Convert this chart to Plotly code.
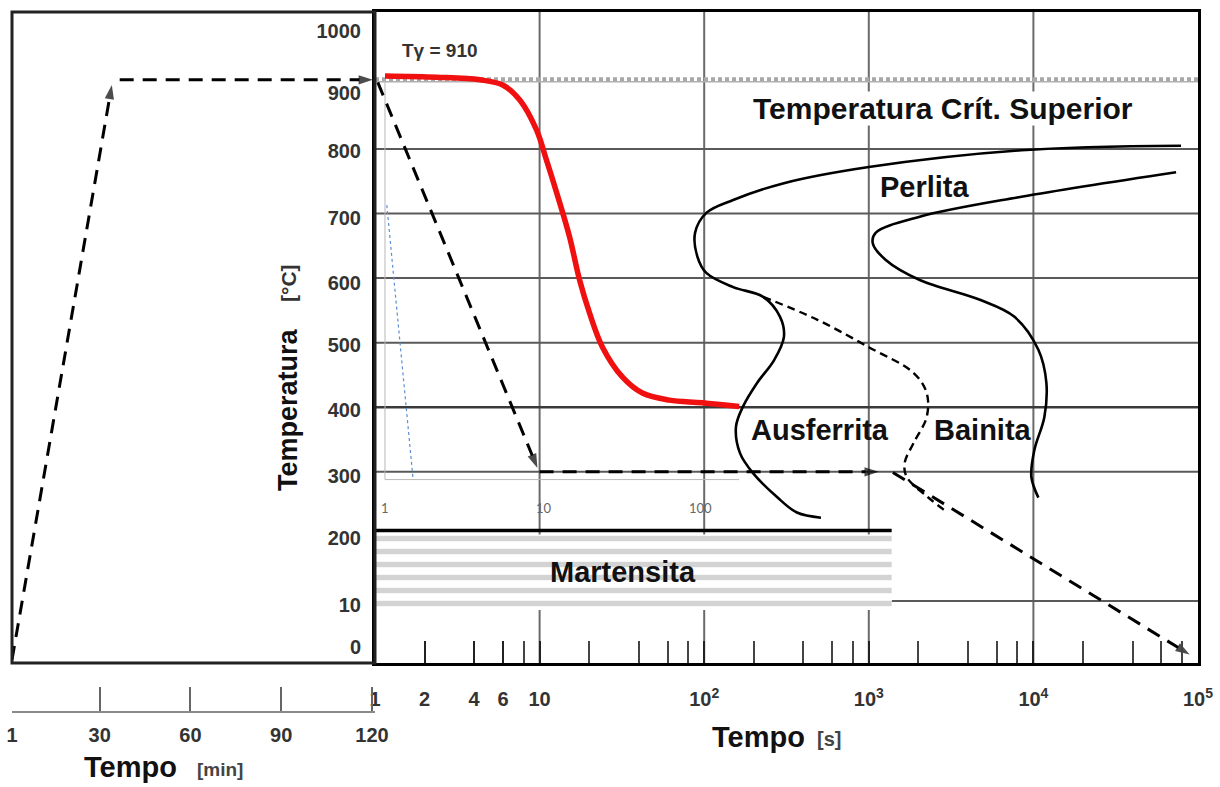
import numpy as np
import plotly.graph_objects as go

W, H = 1220, 787
FONT = "Liberation Sans, Arial, sans-serif"

# ---------------- data ----------------
# Right panel: time [s] (log) vs temperature (axis units)
RED_T = [1.15, 2.38, 4.33, 5.97, 7.56, 9.59, 11.0, 12.7, 15.2, 17.5, 20.1, 24.1, 31.8, 42.1, 61.4, 97.2, 163]
RED_TEMP = [913, 911, 907, 899, 876, 829, 783, 732, 664, 597, 546, 493, 447, 422, 411, 407, 401]

CURVE_A_T = [78900, 8460, 1000, 305, 150, 103, 88, 91, 103, 150, 228, 289, 305, 266, 210, 172, 156, 165, 198, 277, 366, 512]
CURVE_A_TEMP = [805, 798, 772, 747, 721, 701, 670, 633, 608, 586, 571, 540, 509, 473, 438, 401, 370, 329, 298, 261, 237, 229]

CURVE_B_T = [73600, 8460, 2040, 1100, 1057, 1268, 2040, 4775, 7675, 10720, 11990, 11660, 10140, 9720, 10720]
CURVE_B_TEMP = [764, 726, 695, 670, 654, 628, 597, 566, 540, 489, 438, 385, 334, 292, 260]

BAIN_T = [228, 491, 1000, 1875, 2248, 2248, 1875, 1652, 1700, 2279, 3013]
BAIN_TEMP = [571, 535, 493, 453, 422, 385, 345, 314, 292, 261, 237]

COOL1_T, COOL1_TEMP = [1.04, 9.7], [903, 306]
COOL2_T, COOL2_TEMP = [10, 1150], [300, 300]
COOL3_T, COOL3_TEMP = [1400, 89000], [299, 17]

# Left panel: time [min] vs temperature
HEAT1_MIN, HEAT1_TEMP = [1, 34], [9, 899]
HEAT2_MIN, HEAT2_TEMP = [36.6, 120.3], [907, 907]

H_GRID = [300, 400, 500, 600, 700, 800]
V_GRID = [10, 100, 1000, 10000]
TCRIT = 906
MS_TEMP = 209
MS_END_T = 1377
HATCH_BOTTOM, HATCH_TOP = 86, 203
LOW_GRID = 100

INSET_LEFT_T, INSET_RIGHT_T = 1.15, 163
INSET_BOTTOM, INSET_TOP = 288, 905
INSET_LABELS = ["1", "10", "100"]
INSET_LABEL_T = [1.15, 10.6, 95]
INSET_LABEL_TEMP = 244
BLUE_T, BLUE_TEMP = [1.18, 1.70], [713, 291]

# temperature labels sit slightly below their grid lines in the original
Y_TICK_POS = [29, 94, 198, 294, 396, 497, 593, 693, 797, 887, 983]
Y_TICK_TXT = ["0", "10", "200", "300", "400", "500", "600", "700", "800", "900", "1000"]
Y_RANGE = [4, 1012]

X_TICK_VALS = [1, 2, 4, 6, 10, 100, 1000, 10000, 100000]
X_TICK_TXT = ["1", "2", "4", "6", "10", "10<sup>2</sup>", "10<sup>3</sup>", "10<sup>4</sup>", "10<sup>5</sup>"]
X_MINOR = [8, 20, 40, 60, 80, 200, 400, 600, 800, 2000, 4000, 6000, 8000,
           20000, 40000, 60000, 80000]
X_RANGE_T = [1, 100000]

XM_TICKS = [1, 30, 60, 90, 120]
XM_RANGE = [1, 121]

LABELS = [
    ("Temperatura Crít. Superior", 2807, 863, 30, True),
    ("Perlita", 2185, 741, 29, False),
    ("Ausferrita", 505, 365, 29, False),
    ("Bainita", 4909, 365, 29, False),
    ("Martensita", 32.3, 145, 29, False),
]
TG_LABEL = ("Tγ = 910", 2.48, 953)

# ---------------- figure ----------------
fig = go.Figure()


def line(x, y, xaxis="x", color="black", width=2, dash="solid", shape="linear"):
    fig.add_trace(go.Scatter(x=x, y=y, xaxis=xaxis, yaxis="y", mode="lines",
                             line=dict(color=color, width=width, dash=dash, shape=shape),
                             hoverinfo="skip", showlegend=False))


def arrow_line(x, y, xaxis="x", width=3, dash="14px,9px", size=15):
    fig.add_trace(go.Scatter(
        x=x, y=y, xaxis=xaxis, yaxis="y", mode="lines+markers",
        line=dict(color="black", width=width, dash=dash),
        marker=dict(symbol="arrow", size=[0] * (len(x) - 1) + [size],
                    angleref="previous", color="black", line=dict(width=0)),
        cliponaxis=False, hoverinfo="skip", showlegend=False))


# vertical grid
for v in V_GRID:
    line([v, v], Y_RANGE, color="#6a6a6a", width=2)
# horizontal grid
for h in H_GRID:
    line(X_RANGE_T, [h, h], color="#3a3a3a" if h == 400 else "#5a5a5a",
         width=2.5 if h == 400 else 2)
line([MS_END_T, X_RANGE_T[1]], [LOW_GRID, LOW_GRID], color="#5a5a5a", width=2)

# critical temperature line (grey dotted double line)
line(X_RANGE_T, [TCRIT - 2, TCRIT - 2], color="#b0b0b0", width=1.5)
line(X_RANGE_T, [TCRIT + 2, TCRIT + 2], color="#a8a8a8", width=4, dash="4px,3px")

# faint inset frame
line([INSET_LEFT_T, INSET_LEFT_T, INSET_RIGHT_T], [INSET_TOP, INSET_BOTTOM, INSET_BOTTOM],
     color="#b8b8b8", width=1)
line(BLUE_T, BLUE_TEMP, color="#5b8fd0", width=1.2, dash="dot")

# martensite hatch
fig.add_trace(go.Scatter(
    x=[X_RANGE_T[0], MS_END_T, MS_END_T, X_RANGE_T[0], X_RANGE_T[0]],
    y=[HATCH_BOTTOM, HATCH_BOTTOM, HATCH_TOP, HATCH_TOP, HATCH_BOTTOM],
    xaxis="x", yaxis="y", mode="lines", fill="toself", fillcolor="white",
    fillpattern=dict(shape="-", size=13, solidity=0.42, fgcolor="#a8a8a8", bgcolor="white"),
    line=dict(width=0), hoverinfo="skip", showlegend=False))
line([X_RANGE_T[0], MS_END_T], [MS_TEMP, MS_TEMP], color="black", width=3.5)

# transformation curves
line(CURVE_A_T, CURVE_A_TEMP, width=2.6, shape="spline")
line(CURVE_B_T, CURVE_B_TEMP, width=2.6, shape="spline")
line(BAIN_T, BAIN_TEMP, width=2.4, dash="8px,5px", shape="spline")

# red cooling curve
line(RED_T, RED_TEMP, color="#f01010", width=5.5, shape="spline")

# dashed process path
arrow_line(COOL1_T, COOL1_TEMP)
arrow_line(COOL2_T, COOL2_TEMP)
arrow_line(COOL3_T, COOL3_TEMP)
arrow_line(HEAT1_MIN, HEAT1_TEMP, xaxis="x2")
arrow_line(HEAT2_MIN, HEAT2_TEMP, xaxis="x2")

# ---------------- annotations ----------------
ann = []
for txt, t, temp, size, bg in LABELS:
    ann.append(dict(x=np.log10(t), y=temp, xref="x", yref="y", text=f"<b>{txt}</b>",
                    showarrow=False, font=dict(family=FONT, size=size, color="#111"),
                    bgcolor="white" if bg else None, borderpad=0))
ann.append(dict(x=np.log10(TG_LABEL[1]), y=TG_LABEL[2], xref="x", yref="y",
                text=f"<b>{TG_LABEL[0]}</b>", showarrow=False,
                font=dict(family=FONT, size=19, color="#333")))
for lab, t in zip(INSET_LABELS, INSET_LABEL_T):
    ann.append(dict(x=np.log10(t), y=INSET_LABEL_TEMP, xref="x", yref="y", text=lab,
                    showarrow=False, font=dict(family="Lato, Noto Sans, sans-serif",
                                               size=13, color="#666")))


def px(xp, yp):
    return xp / W, 1 - yp / H


for txt, xp, yp, size, color, ang in [
    ("<b>Tempo</b>", 758, 737, 29, "#111", 0),
    ("<b>[s]</b>", 829, 739, 20, "#444", 0),
    ("<b>Tempo</b>", 130, 767, 29, "#111", 0),
    ("<b>[min]</b>", 220, 769, 19, "#444", 0),
    ("<b>Temperatura</b>", 288, 410, 27, "#111", -90),
    ("<b>[°C]</b>", 288, 283, 21, "#333", -90),
]:
    xx, yy = px(xp, yp)
    ann.append(dict(x=xx, y=yy, xref="paper", yref="paper", text=txt, showarrow=False,
                    textangle=ang, xanchor="center", yanchor="middle",
                    font=dict(family=FONT, size=size, color=color)))

# ---------------- layout ----------------
XL, XR_L, XR_R = 12, 375, 1198
YT, YB = 12, 663
tickfont = dict(family=FONT, size=20, color="#333")

fig.update_layout(
    width=W, height=H, margin=dict(l=0, r=0, t=0, b=0, autoexpand=False),
    paper_bgcolor="white", plot_bgcolor="white", showlegend=False,
    xaxis=dict(type="log", domain=[XR_L / W, XR_R / W], range=[np.log10(X_RANGE_T[0]), np.log10(X_RANGE_T[1])],
               anchor="y", showgrid=False, zeroline=False, automargin=False,
               showline=True, linecolor="black", linewidth=3, mirror=True,
               tickmode="array", tickvals=X_TICK_VALS,
               ticktext=[f"<b>{t}</b>" for t in X_TICK_TXT],
               ticks="inside", ticklen=22, tickwidth=2, tickcolor="#222",
               ticklabelstandoff=16, tickfont=tickfont,
               minor=dict(tickmode="array", tickvals=X_MINOR, ticks="inside",
                          ticklen=22, tickwidth=1.6, tickcolor="#444", showgrid=False)),
    xaxis2=dict(domain=[XL / W, XR_L / W], range=XM_RANGE, anchor="free",
                position=1 - 712 / H, showgrid=False, zeroline=False, automargin=False,
                showline=True, linecolor="#8a8a8a", linewidth=1.5,
                tickmode="array", tickvals=XM_TICKS,
                ticktext=[f"<b>{t}</b>" for t in XM_TICKS],
                ticks="inside", ticklen=24, tickwidth=2, tickcolor="#666",
                ticklabelstandoff=5, tickfont=tickfont),
    yaxis=dict(domain=[1 - YB / H, 1 - YT / H], range=Y_RANGE, anchor="x",
               showgrid=False, zeroline=False, automargin=False,
               showline=True, linecolor="black", linewidth=3, mirror=True,
               tickmode="array", tickvals=Y_TICK_POS,
               ticktext=[f"<b>{t}</b>" for t in Y_TICK_TXT],
               ticks="", ticklabelstandoff=7, tickfont=tickfont),
    annotations=ann,
    shapes=[dict(type="rect", xref="x2 domain", yref="y domain", x0=0, x1=1, y0=0, y1=1,
                 line=dict(color="#222", width=3), layer="above")],
)

fig.write_html("out.html", config={"displayModeBar": False},
               post_script="document.body.style.margin='0px';document.body.style.overflow='hidden';")
